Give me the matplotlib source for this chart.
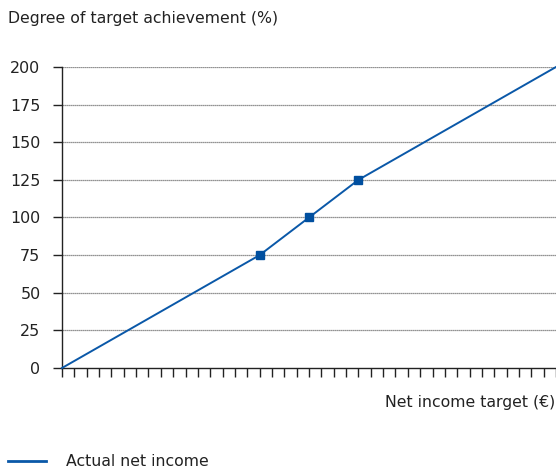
import matplotlib
matplotlib.use('Agg')
import matplotlib.pyplot as plt
from matplotlib.ticker import MultipleLocator

# data (x in tick units of the net income target)
target_x = [0, 16, 20, 24, 40]
achievement = [0, 75, 100, 125, 200]
marker_x = [16, 20, 24]
marker_y = [75, 100, 125]
y_ticks = [0, 25, 50, 75, 100, 125, 150, 175, 200]

line_color = '#0a58a8'
marker_color = '#004f9f'

plt.rcParams['font.family'] = ['DejaVu Sans']

fig = plt.figure(figsize=(5.56, 4.68), dpi=100)
ax = fig.add_axes([62 / 556, 100 / 468, 494 / 556, 301 / 468])

ax.plot(target_x, achievement, color=line_color, lw=1.4, zorder=3, clip_on=False)
ax.plot(marker_x, marker_y, ls='none', marker='s', ms=6, color=marker_color, zorder=4)

ax.set_xlim(0, 40)
ax.set_ylim(0, 200)
ax.set_yticks(y_ticks)
ax.xaxis.set_major_locator(MultipleLocator(1))
ax.set_xticklabels([])
ax.tick_params(axis='x', direction='out', length=6.5, width=1, color='#222222')
ax.tick_params(axis='y', direction='out', length=6.5, width=1, color='#222222',
               labelsize=11.4, pad=9, labelcolor='#222222')

for y in y_ticks[1:]:
    ax.axhline(y, color='#707070', lw=0.9, ls=(0, (1, 0.6)), zorder=1)

for s in ['top', 'right']:
    ax.spines[s].set_visible(False)
for s in ['left', 'bottom']:
    ax.spines[s].set_color('#222222')
    ax.spines[s].set_linewidth(1)

fig.text(8 / 556, 1 - 18 / 468, 'Degree of target achievement (%)', fontsize=11.3,
         color='#222222', va='center', ha='left')
fig.text(555 / 556, 1 - 402 / 468, 'Net income target (€)', fontsize=11.3,
         color='#222222', va='center', ha='right')

fig.add_artist(plt.Line2D([8 / 556, 46 / 556], [1 - 461 / 468, 1 - 461 / 468],
                          color=line_color, lw=2, transform=fig.transFigure))
fig.text(66 / 556, 1 - 461 / 468, 'Actual net income', fontsize=11.3,
         color='#222222', va='center', ha='left')

fig.savefig('out.png', dpi=100)
